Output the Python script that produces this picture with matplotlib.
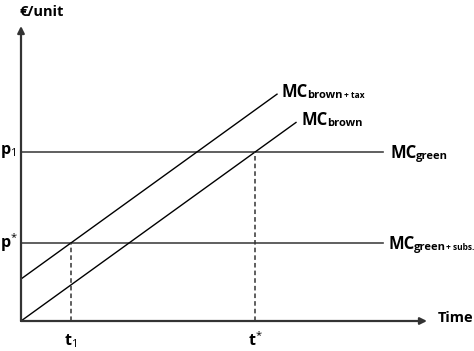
import matplotlib
matplotlib.use("Agg")
import matplotlib.pyplot as plt
import numpy as np

plt.rcParams['font.family'] = ['Open Sans', 'DejaVu Sans']
plt.rcParams['mathtext.fontset'] = 'custom'
plt.rcParams['mathtext.rm'] = 'Open Sans'
plt.rcParams['mathtext.bf'] = 'Open Sans:bold'
plt.rcParams['mathtext.it'] = 'Open Sans:italic'

# data (arbitrary units: time on x, euro/unit on y)
slope = 0.722
tax = 42
p1 = 169
p_star = 78
t_end_brown = 275
t_end_tax = 256
t_star = p1 / slope
t1 = (p_star - tax) / slope
x_axis_end = 406
y_axis_end = 295
green_end = 362

fig = plt.figure(figsize=(4.74, 3.51), dpi=100)
ax = fig.add_axes([0, 0, 1, 1])
ax.set_xlim(-21, 453)
ax.set_ylim(-30, 321)
ax.axis('off')

# axes with arrows
axc = '#333333'
ax.annotate('', xy=(x_axis_end, 0), xytext=(0, 0),
            arrowprops=dict(arrowstyle='-|>', color=axc, lw=1.6, mutation_scale=10, shrinkA=0, shrinkB=0))
ax.annotate('', xy=(0, y_axis_end), xytext=(0, 0),
            arrowprops=dict(arrowstyle='-|>', color=axc, lw=1.6, mutation_scale=10, shrinkA=0, shrinkB=0))

# horizontal MC green lines
ax.plot([0, green_end], [p1, p1], color='#444444', lw=1.2)
ax.plot([0, green_end], [p_star, p_star], color='#444444', lw=1.2)

# brown lines
xb = np.array([0, t_end_brown])
ax.plot(xb, slope * xb, color='black', lw=1.0)
xt = np.array([0, t_end_tax])
ax.plot(xt, tax + slope * xt, color='black', lw=1.0)

# dashed verticals
ax.plot([t1, t1], [0, p_star], color='#333333', lw=1.1, ls=(0, (3, 2)))
ax.plot([t_star, t_star], [0, p1], color='#333333', lw=1.1, ls=(0, (3, 2)))

# labels
ax.text(-1, 309, '€/unit', fontsize=10.5, fontweight='bold', ha='left', va='center')
ax.text(-21, p1, r'$\mathbf{p}_{1}$', fontsize=11.5, ha='left', va='center')
ax.text(-21, p_star, r'$\mathbf{p}^{*}$', fontsize=11.5, ha='left', va='center')
ax.text(t1, -20, r'$\mathbf{t}_{1}$', fontsize=11.5, ha='center', va='center')
ax.text(t_star, -20, r'$\mathbf{t}^{*}$', fontsize=11.5, ha='center', va='center')
ax.text(417, 3, 'Time', fontsize=10.5, fontweight='bold', ha='left', va='center')


def mc_label(x, y, sub, extra=None, gap=1.5):
    main = ax.text(x, y, 'MC', fontsize=12, fontweight='bold', ha='left', va='center')
    s = ax.annotate(sub, xy=(1, 0), xycoords=main, xytext=(-1, 0), textcoords='offset points',
                    fontsize=8, fontweight='bold', ha='left', va='bottom')
    if extra:
        ax.annotate(extra, xy=(1, 0), xycoords=s, xytext=(gap, 0.5), textcoords='offset points',
                    fontsize=6, fontweight='bold', ha='left', va='bottom')


mc_label(t_end_tax + 5, tax + slope * t_end_tax + 2, 'brown', '+ tax')
mc_label(t_end_brown + 6, slope * t_end_brown + 2, 'brown')
mc_label(green_end + 8, p1 - 1, 'green')
mc_label(green_end + 6, p_star - 1, 'green', '+ subs.', gap=0.3)

fig.savefig('out.png', dpi=100)
